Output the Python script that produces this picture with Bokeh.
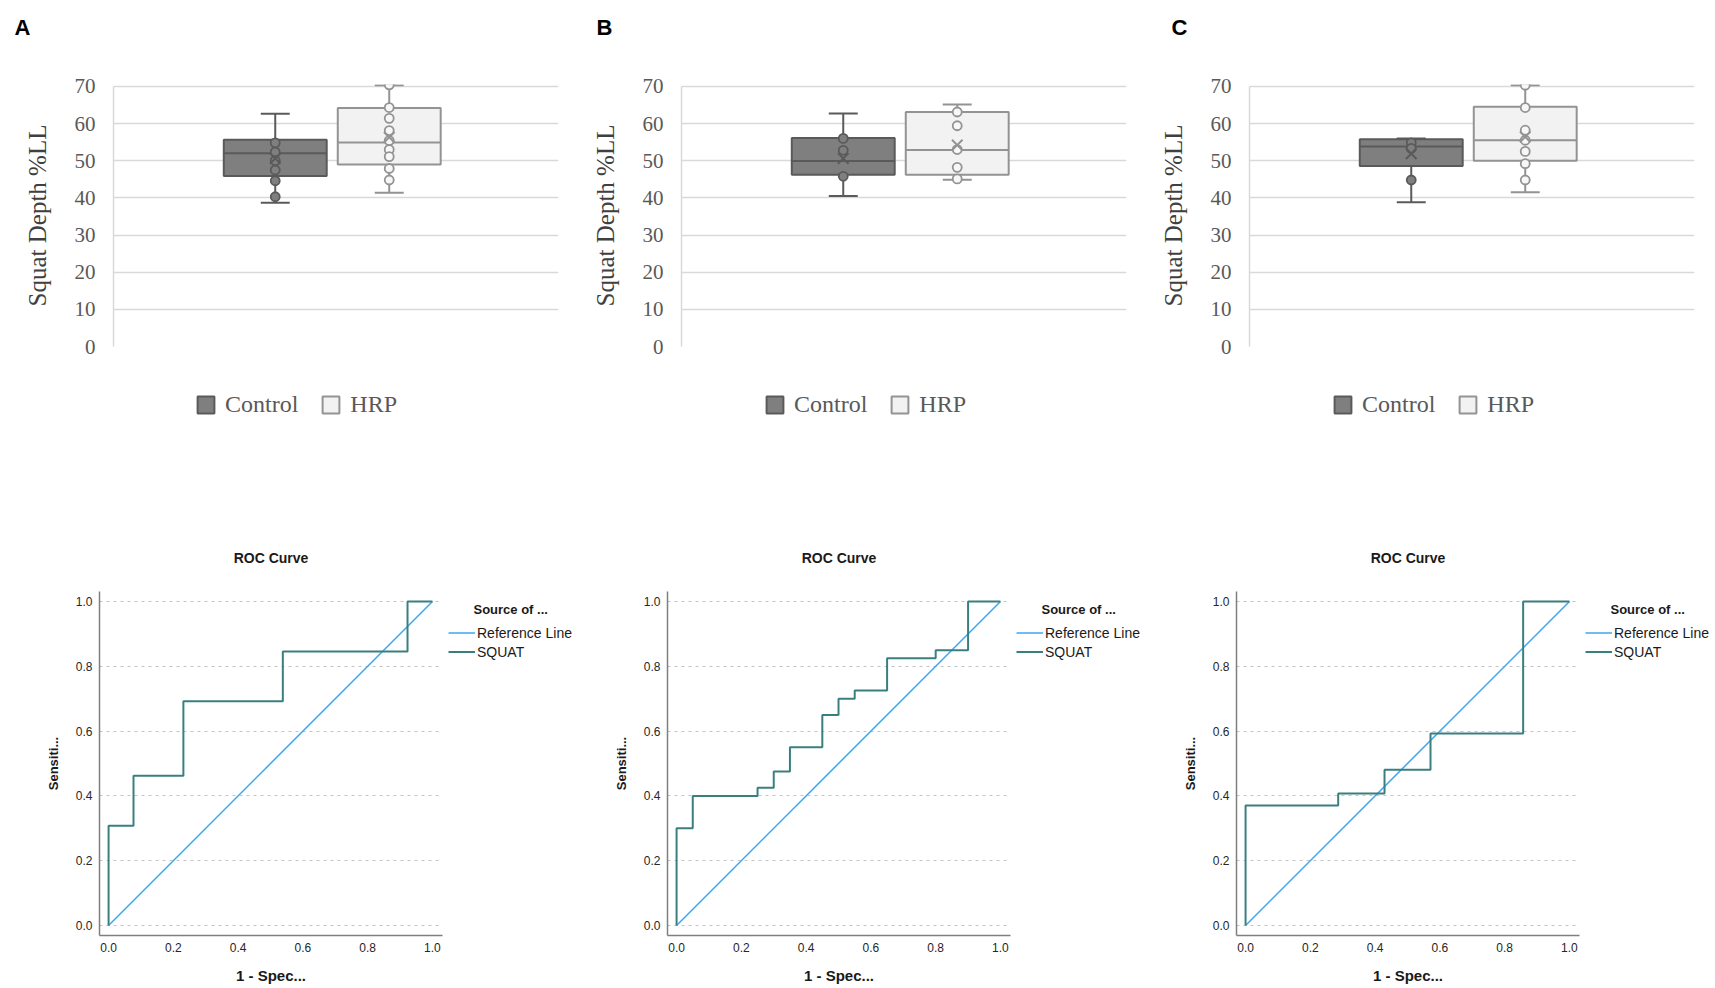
from bokeh.plotting import figure
from bokeh.models import (FactorRange, Range1d, Legend, LegendItem, Label,
                          FixedTicker, NumeralTickFormatter)
from bokeh.layouts import column, row
from bokeh.embed import file_html
from bokeh.resources import INLINE

# ---------------- data ----------------
groups = ["Control", "HRP"]
panel_letters = ["A", "B", "C"]
y_ticks = [0, 10, 20, 30, 40, 50, 60, 70]

# Panel A  (Control, HRP)
a_wlo = [38.7, 41.4]
a_q1 = [45.9, 49.0]
a_med = [52.0, 54.9]
a_q3 = [55.6, 64.2]
a_whi = [62.6, 70.3]
a_mean = [50.6, 56.3]
a_pts_control = [54.8, 52.3, 50.0, 47.5, 44.6, 40.3]
a_pts_hrp = [70.4, 64.3, 61.4, 58.1, 55.4, 53.0, 51.1, 47.9, 44.8]

# Panel B
b_wlo = [40.5, 44.9]
b_q1 = [46.2, 46.2]
b_med = [49.9, 52.9]
b_q3 = [56.1, 63.1]
b_whi = [62.7, 65.1]
b_mean = [50.6, 54.2]
b_pts_control = [56.0, 52.8, 45.8]
b_pts_hrp = [63.1, 59.4, 53.0, 48.2, 45.1]

# Panel C
c_wlo = [38.8, 41.5]
c_q1 = [48.6, 50.0]
c_med = [53.8, 55.5]
c_q3 = [55.8, 64.5]
c_whi = [56.0, 70.3]
c_mean = [51.9, 56.4]
c_pts_control = [54.8, 53.3, 44.8]
c_pts_hrp = [70.3, 64.3, 58.2, 55.5, 52.5, 49.2, 44.8]

# ROC curves (1 - specificity, sensitivity)
roc_series = ["Reference Line", "SQUAT"]
roc_ticks = [0.0, 0.2, 0.4, 0.6, 0.8, 1.0]
ref_x = [0.0, 1.0]
ref_y = [0.0, 1.0]
roc_a_fpr = [0, 0, 0.077, 0.077, 0.231, 0.231, 0.538, 0.538, 0.923, 0.923, 1.0]
roc_a_tpr = [0, 0.308, 0.308, 0.462, 0.462, 0.692, 0.692, 0.846, 0.846, 1.0, 1.0]
roc_b_fpr = [0, 0, 0.05, 0.05, 0.25, 0.25, 0.30, 0.30, 0.35, 0.35, 0.45, 0.45,
             0.50, 0.50, 0.55, 0.55, 0.65, 0.65, 0.80, 0.80, 0.90, 0.90, 1.0]
roc_b_tpr = [0, 0.30, 0.30, 0.40, 0.40, 0.425, 0.425, 0.475, 0.475, 0.55, 0.55, 0.65,
             0.65, 0.70, 0.70, 0.725, 0.725, 0.825, 0.825, 0.85, 0.85, 1.0, 1.0]
roc_c_fpr = [0, 0, 0.286, 0.286, 0.429, 0.429, 0.571, 0.571, 0.857, 0.857, 1.0]
roc_c_tpr = [0, 0.370, 0.370, 0.407, 0.407, 0.481, 0.481, 0.593, 0.593, 1.0, 1.0]

# ---------------- style / layout ----------------
WIDTHS = [576, 568, 570]
LETTER_H = 44
TOP_H = 318
LEG_H = 78
BOT_H = 546
BOX_LEFT = [113, 105, 105]
ROC_LEFT = [99, 91, 92]
LETTER_X = [14, 20, 27]
BOX_LEG_X = [195, 188, 188]
FILL = {"Control": "#7f7f7f", "HRP": "#f2f2f2"}
EDGE = {"Control": "#5a5a5a", "HRP": "#939393"}
PT_FILL = {"Control": "#7f7f7f", "HRP": "#f7f7f7"}
ROC_COLORS = {"Reference Line": "#3fa6ee", "SQUAT": "#3a7f80"}
ROC_WIDTHS = {"Reference Line": 1.5, "SQUAT": 2}
SERIF = "Liberation Serif"
SANS = "Liberation Sans"


def blank(w, h, x_range=None, y_range=None, **kw):
    p = figure(width=w, height=h,
               x_range=x_range if x_range is not None else Range1d(0, w),
               y_range=y_range if y_range is not None else Range1d(0, h),
               x_axis_location=None, y_axis_location=None, output_backend="svg",
               toolbar_location=None, outline_line_color=None, **kw)
    p.xgrid.grid_line_color = None
    p.ygrid.grid_line_color = None
    return p


def letter_panel(idx):
    p = blank(WIDTHS[idx], LETTER_H, min_border=0)
    p.add_layout(Label(x=LETTER_X[idx], y=LETTER_H - 14, x_units="screen", y_units="screen",
                       text=panel_letters[idx], text_font=SANS, text_font_size="22px",
                       text_font_style="bold", text_baseline="top", text_color="black"))
    return p


def box_panel(idx, stats, pts):
    wlo, q1, med, q3, whi, mean = stats
    w = WIDTHS[idx]
    left = BOX_LEFT[idx]
    p = figure(width=w, height=TOP_H,
               x_range=FactorRange(*groups, range_padding=0.952),
               y_range=Range1d(0, 70.5),
               x_axis_location=None, output_backend="svg", toolbar_location=None,
               min_border_left=left, min_border_right=w - left - 445,
               min_border_top=40, min_border_bottom=TOP_H - 40 - 262,
               outline_line_color=None, background_fill_color="white")
    off = -0.033
    bw = 0.903
    cap = 0.127
    for i, g in enumerate(groups):
        xc = [(g, off)]
        p.segment(x0=xc, x1=xc, y0=[q3[i]], y1=[whi[i]], line_color=EDGE[g], line_width=2)
        p.segment(x0=xc, x1=xc, y0=[q1[i]], y1=[wlo[i]], line_color=EDGE[g], line_width=2)
        p.segment(x0=[(g, off - cap)], x1=[(g, off + cap)], y0=[whi[i]], y1=[whi[i]],
                  line_color=EDGE[g], line_width=2)
        p.segment(x0=[(g, off - cap)], x1=[(g, off + cap)], y0=[wlo[i]], y1=[wlo[i]],
                  line_color=EDGE[g], line_width=2)
        p.vbar(x=xc, width=bw, bottom=[q1[i]], top=[q3[i]],
               fill_color=FILL[g], line_color=EDGE[g], line_width=2)
        p.segment(x0=[(g, off - bw / 2)], x1=[(g, off + bw / 2)], y0=[med[i]], y1=[med[i]],
                  line_color=EDGE[g], line_width=2)
        vals = pts[i]
        p.scatter(x=[(g, off)] * len(vals), y=vals, marker="circle", size=9,
                  fill_color=PT_FILL[g], line_color=EDGE[g], line_width=1.8)
        p.scatter(x=xc, y=[mean[i]], marker="x", size=15, line_color=EDGE[g], line_width=2)

    p.xgrid.grid_line_color = None
    p.ygrid.grid_line_color = "#d9d9d9"
    p.ygrid.grid_line_width = 1.5
    ax = p.yaxis[0]
    ax.ticker = FixedTicker(ticks=y_ticks)
    ax.bounds = (0, 70)
    ax.axis_line_color = "#d9d9d9"
    ax.axis_line_width = 1.5
    ax.major_tick_line_color = None
    ax.minor_tick_line_color = None
    ax.major_tick_out = 0
    ax.major_tick_in = 0
    ax.major_label_standoff = 18
    ax.major_label_text_font = SERIF
    ax.major_label_text_font_size = "21px"
    ax.major_label_text_color = "#595959"
    ax.axis_label = "Squat Depth %LL"
    ax.axis_label_text_font = SERIF
    ax.axis_label_text_font_size = "25px"
    ax.axis_label_text_font_style = "normal"
    ax.axis_label_text_color = "#404040"
    ax.axis_label_standoff = 21
    return p


def box_legend(idx, q1, q3):
    # legend strip below the box plot: the (hidden) box renderers only supply the swatches
    p = blank(WIDTHS[idx], LEG_H, x_range=FactorRange(*groups),
              y_range=Range1d(-200, -200 + LEG_H), min_border=0)
    items = []
    for i, g in enumerate(groups):
        r = p.vbar(x=[g], top=[q3[i]], bottom=[q1[i]], width=0.9,
                   fill_color=FILL[g], line_color=EDGE[g], line_width=2)
        r.visible = False
        items.append(LegendItem(label=g, renderers=[r]))
    leg = Legend(items=items, location=(BOX_LEG_X[idx], 22), orientation="horizontal",
                 glyph_width=21, glyph_height=21, label_height=21, label_standoff=9,
                 spacing=22, padding=0, margin=0, border_line_color=None,
                 background_fill_alpha=0, inactive_fill_alpha=0, label_text_font=SERIF,
                 label_text_font_size="24px", label_text_color="#595959")
    p.add_layout(leg, "center")
    return p


def roc_panel(idx, fpr, tpr):
    left = ROC_LEFT[idx]
    w = left + 343 + 4
    p = figure(width=w, height=BOT_H,
               x_range=Range1d(-0.028, 1.031), y_range=Range1d(-0.031, 1.031),
               output_backend="svg", toolbar_location=None,
               min_border_left=left, min_border_right=4,
               min_border_top=151, min_border_bottom=BOT_H - 151 - 344,
               outline_line_color=None, title="ROC Curve")
    p.title.align = "center"
    p.title.text_font = SANS
    p.title.text_font_size = "14px"
    p.title.text_font_style = "bold"
    p.title.text_color = "#1a1a1a"
    p.title.standoff = 51

    p.xgrid.grid_line_color = None
    p.ygrid.grid_line_color = "#c4c4c4"
    p.ygrid.grid_line_dash = "3 4"
    p.ygrid.grid_line_width = 1

    for ax in (p.xaxis[0], p.yaxis[0]):
        ax.ticker = FixedTicker(ticks=roc_ticks)
        ax.formatter = NumeralTickFormatter(format="0.0")
        ax.axis_line_color = "#7f7f7f"
        ax.axis_line_width = 1.5
        ax.major_tick_line_color = None
        ax.minor_tick_line_color = None
        ax.major_tick_out = 0
        ax.major_tick_in = 0
        ax.major_label_text_font = SANS
        ax.major_label_text_font_size = "12px"
        ax.major_label_text_color = "#262626"
        ax.axis_label_text_font = SANS
        ax.axis_label_text_font_style = "bold"
        ax.axis_label_text_color = "#1a1a1a"
    p.xaxis[0].major_label_standoff = 7
    p.xaxis[0].axis_label = "1 - Spec..."
    p.xaxis[0].axis_label_text_font_size = "15px"
    p.xaxis[0].axis_label_standoff = 12
    p.yaxis[0].major_label_standoff = 7
    p.yaxis[0].axis_label = "Sensiti..."
    p.yaxis[0].axis_label_text_font_size = "13px"
    p.yaxis[0].axis_label_standoff = 12

    p.line(ref_x, ref_y, line_color=ROC_COLORS["Reference Line"],
           line_width=ROC_WIDTHS["Reference Line"])
    p.line(fpr, tpr, line_color=ROC_COLORS["SQUAT"], line_width=ROC_WIDTHS["SQUAT"])
    return p


def roc_legend(idx, roc_w, fpr, tpr):
    # legend strip right of the ROC plot; its frame is aligned with the ROC frame.
    # The hidden line renderers only supply the swatches.
    w = WIDTHS[idx] - roc_w
    p = blank(w, BOT_H, x_range=Range1d(0, 1), y_range=Range1d(50, 51),
              min_border_left=0, min_border_right=0,
              min_border_top=151, min_border_bottom=BOT_H - 151 - 344)
    series_xy = {"Reference Line": (ref_x, ref_y), "SQUAT": (fpr, tpr)}
    items = []
    for s in roc_series:
        xs, ys = series_xy[s]
        r = p.line(x=xs, y=ys, line_color=ROC_COLORS[s], line_width=ROC_WIDTHS[s])
        r.visible = False
        items.append(LegendItem(label=s, renderers=[r]))
    leg = Legend(items=items, location=(2, 274), glyph_width=27, glyph_height=19,
                 label_height=19, label_standoff=2, spacing=0, padding=0, margin=0,
                 border_line_color=None, background_fill_alpha=0, inactive_fill_alpha=0,
                 label_text_font=SANS, label_text_font_size="14px",
                 label_text_color="#1a1a1a")
    p.add_layout(leg, "center")
    p.add_layout(Label(x=27, y=326, x_units="screen", y_units="screen",
                       text="Source of ...", text_font=SANS, text_font_size="13px",
                       text_font_style="bold", text_baseline="middle", text_color="#1a1a1a"))
    return p


letters = [letter_panel(i) for i in range(3)]
box_stats = [
    ((a_wlo, a_q1, a_med, a_q3, a_whi, a_mean), (a_pts_control, a_pts_hrp)),
    ((b_wlo, b_q1, b_med, b_q3, b_whi, b_mean), (b_pts_control, b_pts_hrp)),
    ((c_wlo, c_q1, c_med, c_q3, c_whi, c_mean), (c_pts_control, c_pts_hrp)),
]
top = [box_panel(i, s, pts) for i, (s, pts) in enumerate(box_stats)]
legends = [box_legend(i, s[1], s[3]) for i, (s, pts) in enumerate(box_stats)]
roc_data = [(roc_a_fpr, roc_a_tpr), (roc_b_fpr, roc_b_tpr), (roc_c_fpr, roc_c_tpr)]
bottom = []
for i, (f, t) in enumerate(roc_data):
    rp = roc_panel(i, f, t)
    bottom.append(rp)
    bottom.append(roc_legend(i, rp.width, f, t))

layout = column(row(*letters), row(*top), row(*legends), row(*bottom))
open("out.html", "w").write(file_html(layout, INLINE))
